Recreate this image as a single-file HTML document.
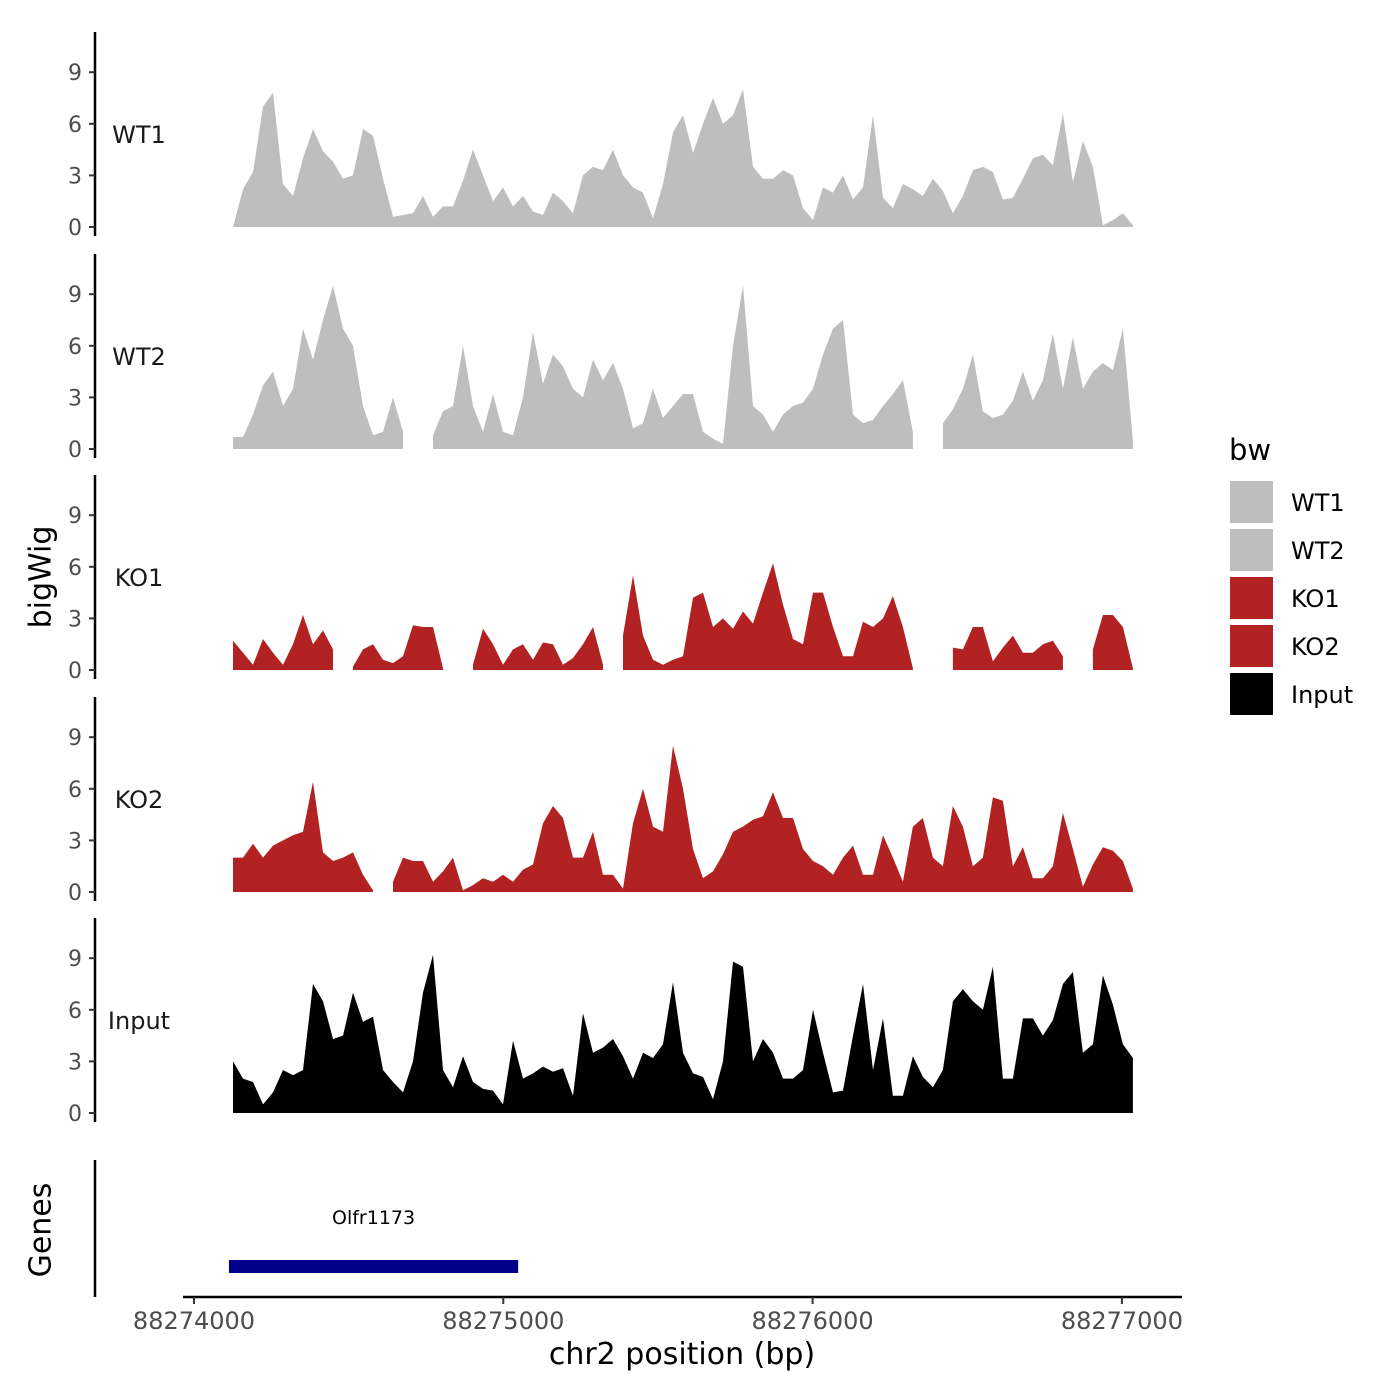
<!DOCTYPE html>
<html><head><meta charset="utf-8">
<style>
html,body{margin:0;padding:0;background:#fff;}
svg{display:block;font-family:"DejaVu Sans","Liberation Sans",sans-serif;}
</style></head>
<body>
<svg id="chart" width="1400" height="1400" viewBox="0 0 1400 1400" xmlns="http://www.w3.org/2000/svg">
  <rect x="0" y="0" width="1400" height="1400" fill="#fff"/>
  <g id="tracks"></g>
  <text x="42" y="577" font-size="30" text-anchor="middle" transform="rotate(-90 42 577)" dominant-baseline="middle">bigWig</text>

  <line x1="95" y1="1160" x2="95" y2="1297" stroke="#000" stroke-width="2.5"/>
  <text x="42" y="1230" font-size="30" text-anchor="middle" transform="rotate(-90 42 1230)" dominant-baseline="middle">Genes</text>
  <g id="genes"></g>

  <line x1="183" y1="1297" x2="1182" y2="1297" stroke="#000" stroke-width="2.5"/>
  <g id="xticks"></g>
  <text x="682" y="1364" font-size="30" text-anchor="middle">chr2 position (bp)</text>

  <g>
    <text x="1229" y="460" font-size="29">bw</text>
    <g id="legend-items"></g>
  </g>
</svg>
<script>
const binStart = 88274126;
const binSize = 32.33;
const xTicks = [88274000, 88275000, 88276000, 88277000];
const yTicks = [0, 3, 6, 9];
const trackNames = ["WT1", "WT2", "KO1", "KO2", "Input"];
const trackColors = ["#bebebe", "#bebebe", "#b22222", "#b22222", "#000000"];
const wt1 = [0,2.2,3.2,7,7.8,2.5,1.8,4,5.7,4.4,3.8,2.8,3,5.7,5.3,2.8,0.6,0.7,0.8,1.8,0.6,1.2,1.2,2.7,4.5,3,1.5,2.3,1.2,1.8,0.9,0.7,2,1.5,0.8,3,3.5,3.3,4.5,3,2.3,2,0.5,2.5,5.5,6.5,4.3,6,7.5,6,6.5,8,3.5,2.8,2.8,3.3,3,1.1,0.4,2.3,2,3,1.6,2.3,6.5,1.7,1.1,2.5,2.2,1.8,2.8,2.1,0.8,1.8,3.3,3.5,3.2,1.6,1.7,2.8,4,4.2,3.6,6.6,2.6,5,3.5,0.1,0.4,0.8,0.1];
const wt2 = [0.7,0.7,2,3.7,4.5,2.5,3.5,7,5.2,7.5,9.5,7,6,2.5,0.8,1,3,1,null,null,0.8,2.2,2.5,6,2.5,1,3.2,1,0.8,3,6.8,3.8,5.5,4.8,3.5,3,5.2,4,5,3.5,1.2,1.5,3.5,1.8,2.5,3.2,3.2,1,0.6,0.3,6,9.5,2.5,2,1,2,2.5,2.7,3.5,5.5,7,7.5,2,1.5,1.7,2.5,3.2,4,1,null,null,1.5,2.3,3.5,5.5,2.2,1.8,2,2.8,4.5,2.8,4,6.7,3.5,6.5,3.5,4.5,5,4.6,7,0.5];
const ko1 = [1.7,1,0.3,1.8,1,0.3,1.5,3.2,1.5,2.3,1.2,null,0.2,1.2,1.5,0.6,0.4,0.8,2.6,2.5,2.5,0.1,null,null,0.3,2.4,1.5,0.3,1.2,1.5,0.6,1.6,1.5,0.3,0.7,1.5,2.5,0.3,null,2,5.5,2,0.6,0.3,0.6,0.8,4.2,4.5,2.5,3,2.4,3.4,2.7,4.5,6.2,3.8,1.8,1.5,4.5,4.5,2.5,0.8,0.8,2.8,2.5,3,4.3,2.5,0.1,null,null,null,1.3,1.2,2.5,2.5,0.5,1.3,2,1,1,1.5,1.7,0.8,null,null,1.2,3.2,3.2,2.5,0.1];
const ko2 = [2,2,2.8,2,2.7,3,3.3,3.5,6.4,2.3,1.8,2,2.3,1,0.1,null,0.6,2,1.8,1.8,0.6,1.2,2,0.1,0.4,0.8,0.6,1,0.6,1.3,1.6,4,5,4.3,2,2,3.5,1,1,0.2,4,6,3.8,3.5,8.5,6,2.5,0.8,1.2,2.2,3.5,3.8,4.2,4.4,5.8,4.3,4.3,2.5,1.8,1.5,1,2,2.7,1,1,3.3,2,0.6,3.8,4.3,2,1.5,5,3.8,1.5,2,5.5,5.3,1.5,2.6,0.8,0.8,1.5,4.6,2.5,0.3,1.6,2.6,2.4,1.8,0.2];
const input = [3,2,1.8,0.5,1.2,2.5,2.2,2.5,7.5,6.5,4.3,4.5,7,5.3,5.6,2.5,1.8,1.2,3,7,9.2,2.5,1.5,3.3,1.8,1.4,1.3,0.5,4.2,2,2.3,2.7,2.4,2.6,1,5.8,3.5,3.8,4.3,3.3,2,3.5,3.2,4,7.6,3.5,2.3,2.1,0.8,3,8.8,8.5,3,4.3,3.5,2,2,2.5,6,3.5,1.2,1.3,4.5,7.5,2.5,5.5,1,1,3.3,2.1,1.5,2.5,6.5,7.2,6.5,6,8.5,2,2,5.5,5.5,4.5,5.4,7.5,8.2,3.5,4,8,6.3,4,3.2];
const trackValues = [wt1, wt2, ko1, ko2, input];
const geneName = "Olfr1173";
const geneStart = 88274113;
const geneEnd = 88275048;

const NS = "http://www.w3.org/2000/svg";
function xScale(bp){ return 194 + (bp - 88274000) * 0.3093; }
const panelZero = [227, 449, 670, 892, 1113];
const unitPx = 17.2;
function yScale(v, p){ return panelZero[p] - v * unitPx; }
function mk(tag, attrs, parent){ const e = document.createElementNS(NS, tag); for (const k in attrs) e.setAttribute(k, attrs[k]); parent.appendChild(e); return e; }

const tracks = document.getElementById('tracks');
trackNames.forEach((name, p) => {
  const g = mk('g', {}, tracks);
  
  
  const z = panelZero[p];
  const ax = mk('line', {x1:95, y1:z-195, x2:95, y2:z+9, stroke:'#000', 'stroke-width':2.5}, g);
  
  
  yTicks.forEach(t => {
    const y = yScale(t, p);
    const tl = mk('line', {x1:89, y1:y, x2:95, y2:y, stroke:'#333', 'stroke-width':2}, g);
    
    
    const tx = mk('text', {x:82, y:y+8, 'font-size':22, 'text-anchor':'end', fill:'#4d4d4d'}, g);
    tx.textContent = t;
    
    
  });
  const lbl = mk('text', {x:139, y:z-84, 'font-size':24, 'text-anchor':'middle', fill:'#1a1a1a'}, g);
  lbl.textContent = name;
  
  
  const vals = trackValues[p];
  let seg = [];
  const segs = [];
  vals.forEach((v, i) => {
    if (v === null) { if (seg.length) segs.push(seg); seg = []; }
    else seg.push([xScale(binStart + i * binSize), yScale(v, p)]);
  });
  if (seg.length) segs.push(seg);
  segs.forEach(s => {
    let d = 'M' + s[0][0].toFixed(1) + ',' + z;
    s.forEach(pt => { d += 'L' + pt[0].toFixed(1) + ',' + pt[1].toFixed(1); });
    d += 'L' + s[s.length-1][0].toFixed(1) + ',' + z + 'Z';
    const path = mk('path', {d:d, fill:trackColors[p]}, g);
    
    
  });
});

const genes = document.getElementById('genes');
const gr = mk('rect', {x:xScale(geneStart), y:1260, width:xScale(geneEnd)-xScale(geneStart), height:13, fill:'#00008b'}, genes);


const gt = mk('text', {x:(xScale(geneStart)+xScale(geneEnd))/2, y:1224, 'font-size':19, 'text-anchor':'middle'}, genes);
gt.textContent = geneName;



const xt = document.getElementById('xticks');
xTicks.forEach(t => {
  const x = xScale(t);
  const l = mk('line', {x1:x, y1:1297, x2:x, y2:1304, stroke:'#333', 'stroke-width':2}, xt);
  
  
  const tx = mk('text', {x:x, y:1329, 'font-size':24, 'text-anchor':'middle', fill:'#4d4d4d'}, xt);
  tx.textContent = t;
  
  
});

const li = document.getElementById('legend-items');
trackNames.forEach((name, i) => {
  const y = 481 + i * 48;
  const r = mk('rect', {x:1230, y:y, width:43, height:42, fill:trackColors[i]}, li);
  
  
  const t = mk('text', {x:1291, y:y+30, 'font-size':24}, li);
  t.textContent = name;
  
  
});
</script>
</body></html>
